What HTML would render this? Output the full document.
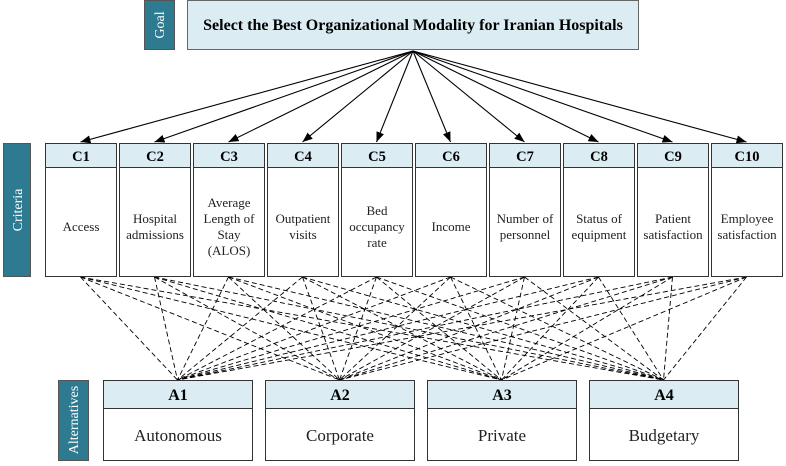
<!DOCTYPE html>
<html><head><meta charset="utf-8"><style>
body{margin:0;width:786px;height:461px;background:#fff;overflow:hidden;}
svg text{font-family:"Liberation Serif",serif;}
</style></head><body>
<svg width="786" height="461" xmlns="http://www.w3.org/2000/svg">
<defs><marker id="ah" markerWidth="10" markerHeight="8" refX="10" refY="4" orient="auto" markerUnits="userSpaceOnUse"><path d="M0,0 L10,4 L0,8 z" fill="#000"/></marker></defs>
<rect x="144.5" y="0.5" width="30" height="49" fill="#2e7b91" stroke="#555"/>
<text transform="translate(164,25) rotate(-90)" text-anchor="middle" font-size="14" fill="#fff">Goal</text>
<rect x="187.5" y="0.5" width="451" height="49" fill="#dbedf3" stroke="#666"/>
<text x="413" y="30" text-anchor="middle" font-size="16" font-weight="bold">Select the Best Organizational Modality for Iranian Hospitals</text>
<rect x="3.5" y="143.5" width="27" height="133" fill="#2e7b91" stroke="#555"/>
<text transform="translate(22,210) rotate(-90)" text-anchor="middle" font-size="14" fill="#fff">Criteria</text>
<g id="arrows" stroke="#000" stroke-width="1.1"></g>
<g id="dash" stroke="#000" stroke-width="0.9" stroke-dasharray="5,3" fill="none"></g>
<rect x="58.5" y="380.5" width="30" height="80" fill="#2e7b91" stroke="#555"/>
<text transform="translate(78,420) rotate(-90)" text-anchor="middle" font-size="14" fill="#fff">Alternatives</text>
</svg>
<script>
var ns="http://www.w3.org/2000/svg";
function el(p,t,a,txt){var e=document.createElementNS(ns,t);for(var k in a)e.setAttribute(k,a[k]);if(txt)e.textContent=txt;p.appendChild(e);return e;}
var svg=document.querySelector('svg');
var crit=[["Access"],["Hospital","admissions"],["Average","Length of","Stay","(ALOS)"],["Outpatient","visits"],["Bed","occupancy","rate"],["Income"],["Number of","personnel"],["Status of","equipment"],["Patient","satisfaction"],["Employee","satisfaction"]];
var cx=[];
var dash=document.getElementById('dash'),arr=document.getElementById('arrows');
var altc=[177.5,339.5,501.5,663.5];
for(var i=0;i<10;i++){
 var x=45+i*74;cx.push(x+35.5);
 for(var j=0;j<4;j++) el(dash,'line',{x1:x+35.5,y1:277,x2:altc[j],y2:380});
}
for(var i=0;i<10;i++){
 var x=45+i*74;
 el(svg,'rect',{x:x+0.5,y:143.5,width:71,height:133,fill:'#fff',stroke:'#333'});
 el(svg,'rect',{x:x+0.5,y:143.5,width:71,height:24,fill:'#dbedf3',stroke:'#333'});
 el(svg,'text',{x:x+36,y:161,'text-anchor':'middle','font-size':14.5,'font-weight':'bold'},'C'+(i+1));
 var L=crit[i],n=L.length,y0=227-(n-1)*8+4;
 for(var k=0;k<n;k++) el(svg,'text',{x:x+36,y:y0+k*16,'text-anchor':'middle','font-size':13,fill:'#222'},L[k]);
 el(arr,'line',{x1:413,y1:51,x2:cx[i],y2:142,'marker-end':'url(#ah)'});
}
var alts=[["A1","Autonomous"],["A2","Corporate"],["A3","Private"],["A4","Budgetary"]];
for(var j=0;j<4;j++){
 var x=103+j*162;
 el(svg,'rect',{x:x+0.5,y:380.5,width:149,height:80,fill:'#fff',stroke:'#333'});
 el(svg,'rect',{x:x+0.5,y:380.5,width:149,height:28,fill:'#dbedf3',stroke:'#333'});
 el(svg,'text',{x:x+75,y:400,'text-anchor':'middle','font-size':16,'font-weight':'bold'},alts[j][0]);
 el(svg,'text',{x:x+75,y:441,'text-anchor':'middle','font-size':17,fill:'#222'},alts[j][1]);
}
</script>
</body></html>
